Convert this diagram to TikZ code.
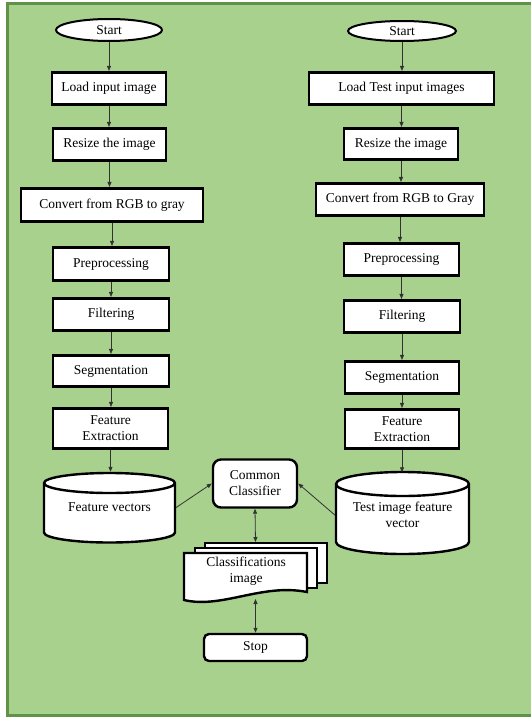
\documentclass[tikz,border=0pt]{standalone}
\usepackage{fontspec}
\setmainfont{Liberation Serif}
\usetikzlibrary{shapes.geometric,arrows.meta}
\definecolor{bggreen}{RGB}{169,209,142}
\definecolor{framegreen}{RGB}{96,146,72}
\definecolor{arrowgray}{RGB}{50,50,50}
\tikzset{
  txt/.style={font=\fontsize{13.5}{16}\selectfont, align=center},
  procbox/.style={txt, draw=black, line width=2.6pt, fill=white, rectangle, minimum height=32.5pt, inner sep=2pt},
  startnode/.style={txt, draw=black, line width=2pt, fill=white, ellipse, inner sep=0pt},
  roundbox/.style={txt, draw=black, line width=2.4pt, fill=white, rounded corners=8pt},
  pagebox/.style={draw=black, line width=2.4pt, fill=white},
  cylline/.style={draw=black, line width=2.4pt},
  flow/.style={draw=arrowgray, line width=0.8pt, -{Triangle[length=5pt,width=4pt]}},
  flowboth/.style={draw=arrowgray, line width=0.8pt, {Triangle[length=5pt,width=4pt]}-{Triangle[length=5pt,width=4pt]}},
}
\begin{document}
\begin{tikzpicture}[x=1pt,y=1pt]
\useasboundingbox (0,0) rectangle (531,-720);
\fill[white] (0,0) rectangle (531,-720);
\fill[bggreen] (7,-3.5) rectangle (531,-715);
\draw[framegreen, line width=3pt] (531,-3.5) -- (7,-3.5) -- (7,-715) -- (531,-715);

% left column
\node[startnode, minimum width=106pt, minimum height=22pt] (ls) at (109,-30) {Start};
\node[procbox, minimum width=114pt] (l1) at (109,-88.5) {Load input image};
\node[procbox, minimum width=113pt] (l2) at (109.5,-144.5) {Resize the image};
\node[procbox, minimum width=182pt, minimum height=33.5pt] (l3) at (112,-205) {Convert from RGB to gray};
\node[procbox, minimum width=116pt, minimum height=33.5pt] (l4) at (111,-264) {Preprocessing};
\node[procbox, minimum width=116pt] (l5) at (111,-314.5) {Filtering};
\node[procbox, minimum width=116pt, minimum height=31.5pt] (l6) at (111,-371) {Segmentation};
\node[procbox, minimum width=115pt, minimum height=40.5pt] (l7) at (110.5,-428.5) {Feature\\Extraction};

% right column
\node[startnode, minimum width=108pt, minimum height=20pt] (rs) at (402,-31) {Start};
\node[procbox, minimum width=185pt] (r1) at (401.5,-88.5) {Load Test input images};
\node[procbox, minimum width=114pt, minimum height=31.5pt] (r2) at (401,-144) {Resize the image};
\node[procbox, minimum width=168pt] (r3) at (400,-199.5) {Convert from RGB to Gray};
\node[procbox, minimum width=115pt] (r4) at (401.5,-259.5) {Preprocessing};
\node[procbox, minimum width=116pt] (r5) at (402,-316.5) {Filtering};
\node[procbox, minimum width=114pt] (r6) at (402,-377.5) {Segmentation};
\node[procbox, minimum width=114pt, minimum height=39.5pt] (r7) at (402,-429) {Feature\\Extraction};

% cylinders
\draw[cylline, fill=white] (44,-483) -- (44,-532.5)
  arc[start angle=180, end angle=360, x radius=65.5pt, y radius=10pt] -- (175,-483)
  arc[start angle=0, end angle=180, x radius=65.5pt, y radius=10pt] -- cycle;
\draw[cylline] (44,-483) arc[start angle=180, end angle=360, x radius=65.5pt, y radius=10pt];
\node[txt, minimum width=133pt, minimum height=71pt, inner sep=0pt] (fv) at (109.5,-507.5) {Feature vectors};

\draw[cylline, fill=white] (336,-484) -- (336,-542)
  arc[start angle=180, end angle=360, x radius=66.5pt, y radius=12pt] -- (469,-484)
  arc[start angle=0, end angle=180, x radius=66.5pt, y radius=12pt] -- cycle;
\draw[cylline] (336,-484) arc[start angle=180, end angle=360, x radius=66.5pt, y radius=12pt];
\node[txt, minimum width=135pt, minimum height=85pt, inner sep=0pt] (tv) at (402.5,-515) {Test image feature\\vector};

% classifier
\node[roundbox, minimum width=84pt, minimum height=48pt] (cc) at (255,-483.5) {Common\\Classifier};

% multi-document
\draw[pagebox] (205,-543) rectangle (327,-583);
\draw[pagebox] (195,-548) rectangle (317,-588);
\draw[pagebox] (184,-553) -- (307,-553) -- (307,-592)
  .. controls (262,-583) and (222,-609) .. (184,-600) -- cycle;
\node[txt, inner sep=1pt] (docs) at (246,-571) {Classifications\\image};
\coordinate (dtop) at (255.5,-542);
\coordinate (dbot) at (255.5,-599);

% stop
\node[roundbox, rounded corners=5pt, minimum width=103pt, minimum height=27pt] (stop) at (255.5,-647.5) {Stop};

% connectors
\foreach \a/\b in {ls/l1,l1/l2,l2/l3,l3/l4,l4/l5,l5/l6,l6/l7,l7/fv,rs/r1,r1/r2,r2/r3,r3/r4,r4/r5,r5/r6,r6/r7,r7/tv}
  \draw[flow] (\a.south) -- (\a.south |- \b.north);
\draw[flow] (fv.east) -- (cc.west);
\draw[flow] (tv.west) -- (cc.east);
\draw[flowboth] (cc.south) -- (dtop);
\draw[flowboth] (dbot) -- (stop.north);
\end{tikzpicture}
\end{document}
